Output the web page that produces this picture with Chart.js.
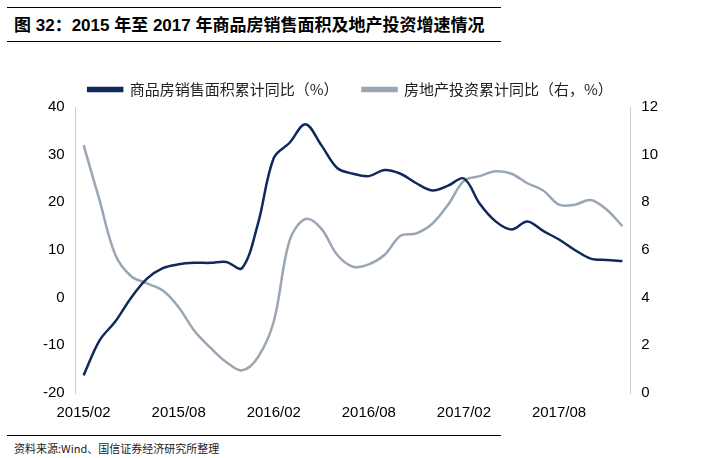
<!DOCTYPE html>
<html><head><meta charset="utf-8">
<script src="https://cdn.jsdelivr.net/npm/chart.js@4"></script>
<style>
body{margin:0;width:719px;height:458px;background:#fff;font-family:"Noto Sans CJK SC",sans-serif;position:relative;overflow:hidden}
.hl{position:absolute;left:7px;width:494px;height:1px;background:#000}
#title{position:absolute;left:14px;top:11px;font-size:17px;font-weight:bold;font-family:"Liberation Sans","Noto Sans CJK SC";}
#src{position:absolute;left:14px;top:440px;font-size:11px;color:#222}
#wrap{position:absolute;left:0;top:58px;width:719px;height:367px}
</style></head><body>
<div class="hl" style="top:7px"></div>
<div id="title">图 32：2015 年至 2017 年商品房销售面积及地产投资增速情况</div>
<div class="hl" style="top:41px"></div>
<div id="wrap"><canvas id="c"></canvas></div>
<div class="hl" style="top:435px"></div>
<div id="src">资料来源:Wind、国信证券经济研究所整理</div>
<script>
const months=[];
for(let i=0;i<35;i++){const m=(1+i)%12+1,y=2015+Math.floor((1+i)/12);months.push(y+'/'+String(m).padStart(2,'0'));}
const salesArea=[-16.3,-9,-5,0,4,6.2,7,7.3,7.3,7.5,6.2,15.5,29.3,32.5,36.4,32,27.2,26,25.5,26.8,26,24,22.5,23.5,25,19.7,16,14.3,16,14,12.2,10,8.2,7.9,7.7];
const investment=[10.4,8.1,5.8,4.9,4.6,4.3,3.6,2.6,1.9,1.3,0.95,1.5,3.0,6.4,7.3,6.9,5.8,5.3,5.4,5.8,6.6,6.7,7.1,7.9,8.9,9.1,9.3,9.2,8.8,8.5,7.9,7.9,8.1,7.7,7.0];
const leftTicks=[-20,-10,0,10,20,30,40], rightTicks=[0,2,4,6,8,10,12];
const tf={family:"Liberation Sans",size:15};
new Chart(document.getElementById('c'),{type:'line',
data:{labels:months,datasets:[
{label:'商品房销售面积累计同比（%）',data:salesArea,borderColor:'#0f2a5a',backgroundColor:'#0f2a5a',borderWidth:2.5,pointRadius:0,tension:0.35,yAxisID:'y'},
{label:'房地产投资累计同比（右，%）',data:investment,borderColor:'#9aa6b4',backgroundColor:'#9aa6b4',borderWidth:2.5,pointRadius:0,tension:0.35,yAxisID:'y1'}]},
options:{responsive:true,maintainAspectRatio:false,animation:false,
layout:{padding:{left:40,right:58,top:0,bottom:0}},
plugins:{legend:{labels:{boxWidth:34,boxHeight:3,color:'#222',font:{family:"Noto Sans CJK SC",size:15},padding:24}},tooltip:{enabled:false}},
scales:{
x:{offset:true,grid:{display:false},border:{display:false},ticks:{autoSkip:false,maxRotation:0,color:'#000',font:tf,callback:(v,i)=>i%6===0?months[i]:''}},
y:{position:'left',min:-20,max:40,afterBuildTicks:a=>{a.ticks=leftTicks.map(v=>({value:v}))},grid:{display:false},border:{color:'#ccc'},ticks:{color:'#000',font:tf}},
y1:{position:'right',min:0,max:12,afterBuildTicks:a=>{a.ticks=rightTicks.map(v=>({value:v}))},grid:{display:false},border:{color:'#ccc'},ticks:{color:'#000',font:tf}}
}}});
</script></body></html>
